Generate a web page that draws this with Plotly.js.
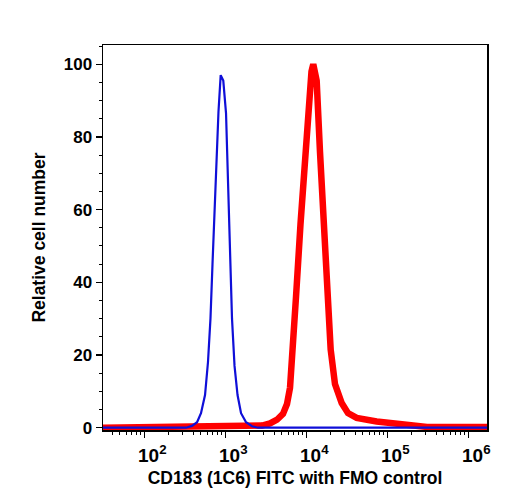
<!DOCTYPE html>
<html>
<head>
<meta charset="utf-8">
<script src="https://cdn.plot.ly/plotly-3.0.1.min.js"></script>
<style>
  html, body { margin: 0; padding: 0; background: #ffffff; }
  #chart { width: 508px; height: 500px; }
</style>
</head>
<body>
<div id="chart"></div>
<script>
// FMO control histogram (blue): fluorescence intensity vs relative cell number
const fmoIntensity = [30, 118, 327, 388, 448, 501, 562, 611, 656, 695, 736, 791, 824, 877,
  944, 1021, 1050, 1096, 1143, 1210, 1300, 1416, 1564, 1803, 2138, 2535, 1800000];
const fmoCount = [0, 0, 0, 0.5, 1.5, 4, 9, 18, 30, 45, 60, 76, 87, 97,
  95.5, 86.5, 76, 60, 45, 30, 17, 9, 4, 1.5, 0.4, 0, 0];

// CD183 (1C6) FITC stained histogram (red)
const cd183Intensity = [30, 2339, 2839, 3562, 4350, 5154, 5776, 6293, 6760, 7465, 8477, 9638,
  10590, 11590, 12190, 13430, 14750, 16210, 17850, 20000, 22600, 27350, 32730, 41880,
  73960, 143500, 276300, 309200, 1800000];
const cd183Count = [0, 0.2, 0.6, 1.2, 2.2, 3.8, 6.5, 11, 20, 36, 56, 76,
  90, 98, 100, 95.5, 76, 58, 40, 21.5, 12, 6.8, 4, 2.7,
  1.7, 1.2, 0.7, 0.2, 0.2];

// Axis ticks
const xTickVals = [1e2, 1e3, 1e4, 1e5, 1e6];
const xTickText = ['10<sup>2</sup>', '10<sup>3</sup>', '10<sup>4</sup>', '10<sup>5</sup>', '10<sup>6</sup>'];
const yTickVals = [0, 20, 40, 60, 80, 100];

const fontFamily = '"Liberation Sans", Arial, Helvetica, sans-serif';

const traces = [
  {
    x: cd183Intensity, y: cd183Count, type: 'scatter', mode: 'lines',
    line: { color: '#ff0000', width: 6.5, shape: 'linear' },
    hoverinfo: 'skip', showlegend: false
  },
  {
    x: fmoIntensity, y: fmoCount, type: 'scatter', mode: 'lines',
    line: { color: '#0f0fd8', width: 2.2, shape: 'linear' },
    hoverinfo: 'skip', showlegend: false
  }
];

const layout = {
  width: 508, height: 500,
  margin: { l: 103, r: 21, t: 45, b: 70, pad: 0 },
  paper_bgcolor: '#ffffff', plot_bgcolor: '#ffffff',
  font: { family: fontFamily, color: '#000000', size: 16, weight: 'bold' },
  xaxis: {
    type: 'log', range: [1.49, 6.231],
    showline: true, linecolor: '#000000', linewidth: 1.5, mirror: true,
    showgrid: false, zeroline: false,
    tickmode: 'array', tickvals: xTickVals, ticktext: xTickText,
    ticks: 'outside', ticklen: 6, tickwidth: 1.5, tickcolor: '#000000',
    ticklabelshift: 8, ticklabelstandoff: 2,
    tickfont: { family: fontFamily, size: 19, color: '#000000', weight: 'bold' },
    minor: { ticks: 'outside', ticklen: 3, tickwidth: 1, tickcolor: '#000000', dtick: 'D1', showgrid: false },
    title: { text: 'CD183 (1C6) FITC with FMO control', standoff: 6,
      font: { family: fontFamily, size: 17.5, color: '#000000', weight: 'bold' } }
  },
  yaxis: {
    range: [-0.63, 105.3],
    showline: true, linecolor: '#000000', linewidth: 1.5, mirror: true,
    showgrid: false, zeroline: false,
    tickmode: 'array', tickvals: yTickVals,
    ticks: 'outside', ticklen: 6, tickwidth: 1.5, tickcolor: '#000000',
    tickfont: { family: fontFamily, size: 17, color: '#000000', weight: 'bold' },
    minor: { ticks: 'outside', ticklen: 3, tickwidth: 1, tickcolor: '#000000', dtick: 5, showgrid: false },
    title: { text: 'Relative cell number', standoff: 13,
      font: { family: fontFamily, size: 17.5, color: '#000000', weight: 'bold' } }
  }
};

Plotly.newPlot('chart', traces, layout, { staticPlot: true, displayModeBar: false });
</script>
</body>
</html>
